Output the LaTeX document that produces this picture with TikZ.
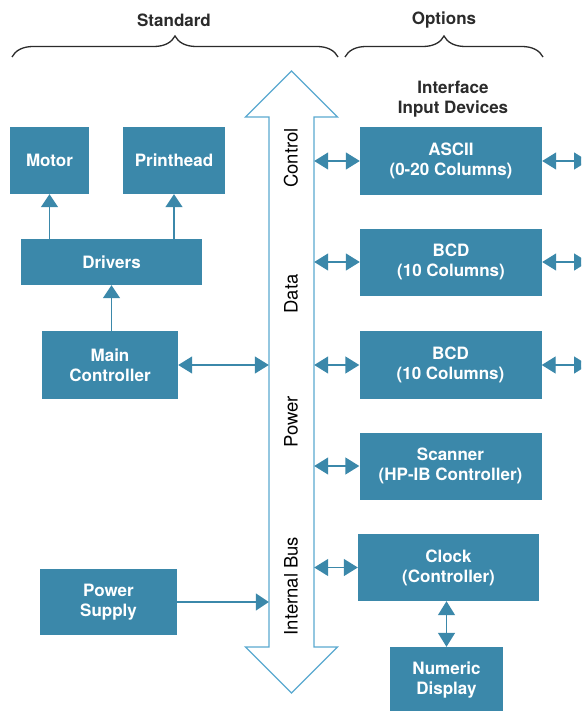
\documentclass[tikz,border=0pt]{standalone}
\usepackage{fontspec}
\setmainfont{TeX Gyre Heros}
\usetikzlibrary{arrows.meta,decorations.pathreplacing}

\definecolor{boxblue}{HTML}{3B88AA}
\definecolor{busblue}{HTML}{5AA9D0}
\definecolor{inkgray}{HTML}{2B2B2B}

\begin{document}
\begin{tikzpicture}[x=1pt, y=-1pt,
  unit/.style={fill=boxblue, text=white, font=\bfseries\fontsize{17}{20}\selectfont, align=center, inner sep=0pt},
  link/.style={boxblue, line width=1.4pt, -{Triangle[width=17pt,length=13pt]}},
  dlink/.style={boxblue, line width=1.4pt, {Triangle[width=17pt,length=14pt]}-{Triangle[width=17pt,length=14pt]}},
  buslabel/.style={rotate=90, font=\fontsize{18.5}{20}\selectfont, text=black},
  heading/.style={font=\bfseries\fontsize{17}{20}\selectfont, text=inkgray, align=center},
  bracket/.style={decorate, decoration={brace, amplitude=21pt}, line width=1.3pt, inkgray}]

\useasboundingbox (0,0) rectangle (581,711);
\clip (0,0) rectangle (581,711);

% headings and braces
\node[heading] (std) at (174,20) {Standard};
\node[heading] (opt) at (444,20) {Options};
\node[heading] (iface) at (453,99) {Interface\\Input Devices};
\draw[bracket] (12,57) -- (338,57);
\draw[bracket] (345,57) -- (543,57);

% internal bus
\draw[busblue, line width=1.3pt, fill=white] (291.5,71) -- (337.5,117) -- (314,117) -- (314,647) -- (337.5,647)
  -- (291.5,693) -- (245.5,647) -- (269,647) -- (269,117) -- (245.5,117) -- cycle;
\node[minimum width=45pt, minimum height=530pt, inner sep=0pt] (bus) at (291.5,382) {};

\node[buslabel] (lctrl) at (291,158) {Control};
\node[buslabel] (ldata) at (291,294) {Data};
\node[buslabel] (lpower) at (291,422) {Power};
\node[buslabel] (lbus) at (291,586) {Internal Bus};

% standard units
\node[unit, minimum width=79pt, minimum height=67pt] (motor) at (49.5,160.5) {Motor};
\node[unit, minimum width=102pt, minimum height=67pt] (printhead) at (174,160.5) {Printhead};
\node[unit, minimum width=181pt, minimum height=46pt] (drivers) at (111.5,262) {Drivers};
\node[unit, minimum width=136pt, minimum height=68pt] (main) at (110,365) {Main\\Controller};
\node[unit, minimum width=137pt, minimum height=66pt] (power) at (108.5,602) {Power\\Supply};

\draw[link] (drivers.north -| motor) -- (motor.south);
\draw[link] (drivers.north -| printhead) -- (printhead.south);
\draw[link] (main.north -| drivers) -- (drivers.south);
\draw[dlink] (main.east) -- (bus.west |- main.east);
\draw[link] (power.east) -- (bus.west |- power.east);

% options
\node[unit, minimum width=182pt, minimum height=68pt] (ascii) at (451,161) {ASCII\\(0-20 Columns)};
\node[unit, minimum width=182pt, minimum height=67pt] (bcda) at (451,262) {BCD\\(10 Columns)};
\node[unit, minimum width=182pt, minimum height=68pt] (bcdb) at (450.5,365) {BCD\\(10 Columns)};
\node[unit, minimum width=182pt, minimum height=67pt] (scanner) at (450.5,466) {Scanner\\(HP-IB Controller)};
\node[unit, minimum width=181pt, minimum height=67pt] (clock) at (448.5,567.5) {Clock\\(Controller)};
\node[unit, minimum width=113pt, minimum height=66pt] (display) at (446.5,680) {Numeric\\Display};

\foreach \dev in {ascii, bcda, bcdb, scanner, clock}
  \draw[dlink] (bus.east |- \dev.west) -- (\dev.west);

\coordinate (outa) at (588,161);
\coordinate (outb) at (588,262);
\coordinate (outc) at (588,365);
\draw[dlink] (ascii.east) -- (outa);
\draw[dlink] (bcda.east) -- (outb);
\draw[dlink] (bcdb.east) -- (outc);

\draw[dlink] (clock.south -| display) -- (display.north);

\end{tikzpicture}
\end{document}
